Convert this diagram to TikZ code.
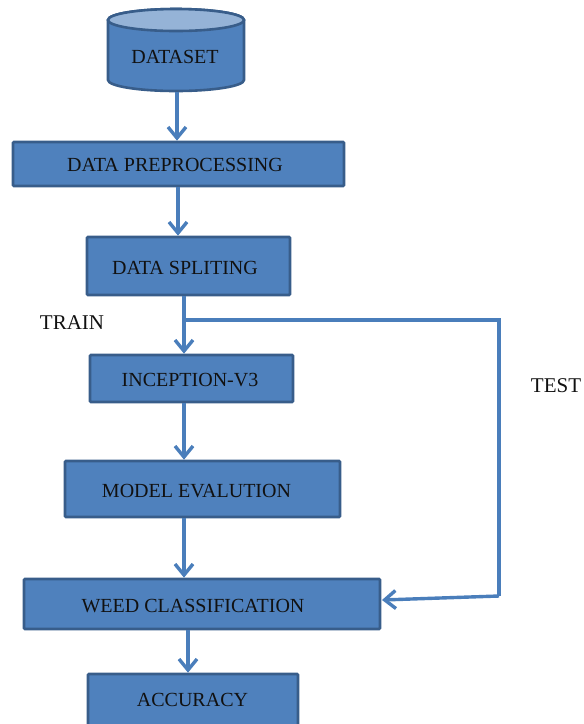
\documentclass[tikz,border=0pt]{standalone}
\usepackage{fontspec}
\setmainfont{Liberation Serif}
\usetikzlibrary{arrows.meta}
\definecolor{boxfill}{HTML}{4F81BD}
\definecolor{boxline}{HTML}{385D8A}
\definecolor{linkcol}{HTML}{4A7EBB}
\definecolor{topfill}{HTML}{95B3D7}
\definecolor{txt}{HTML}{111111}
\tikzset{
  box/.style={rectangle, draw=boxline, fill=boxfill, line width=2.6pt, rounded corners=1pt, inner sep=0pt},
  lbl/.style={font=\fontsize{20}{24}\selectfont, text=txt, inner sep=0pt},
  side/.style={font=\fontsize{21}{25}\selectfont, text=txt, inner sep=0pt},
  link/.style={draw=linkcol, line width=3.4pt},
  arr/.style={link, -{Straight Barb[length=11pt,width=18pt]}}
}
\begin{document}
\begin{tikzpicture}
\useasboundingbox (0,0) rectangle (584pt,-724pt);
\begin{scope}[x=1pt,y=1pt]
\clip (0,0) rectangle (584,-724);
% cylinder (dataset)
\draw[draw=boxline, fill=boxfill, line width=2.6pt]
  (108,-20) -- (108,-80) arc[start angle=180, end angle=360, x radius=68, y radius=11]
  -- (244,-20) arc[start angle=0, end angle=180, x radius=68, y radius=11] -- cycle;
\draw[draw=boxline, fill=topfill, line width=2.6pt] (176,-20) ellipse[x radius=68, y radius=11];
\node[lbl] (dsL) at (175,-57) {DATASET};
\coordinate (dsb) at (177,-92);

% boxes
\node[box, minimum width=331pt, minimum height=44pt] (pre) at (178.5,-164) {};
\node[box, minimum width=203pt, minimum height=58pt] (split) at (188.5,-266) {};
\node[box, minimum width=203pt, minimum height=47pt] (incep) at (191.5,-378.5) {};
\node[box, minimum width=275pt, minimum height=56pt] (model) at (202.5,-489) {};
\node[box, minimum width=356pt, minimum height=50pt] (weed) at (202,-604) {};
\node[box, minimum width=210pt, minimum height=60pt] (acc) at (193,-704) {};

\node[lbl] (preL) at (175,-165) {DATA PREPROCESSING};
\node[lbl] (splitL) at (185,-268) {DATA SPLITING};
\node[lbl] (incepL) at (190,-380) {INCEPTION-V3};
\node[lbl] (modelL) at (196.5,-491) {MODEL EVALUTION};
\node[lbl] (weedL) at (193,-606) {WEED CLASSIFICATION};
\node[lbl] (accL) at (192.5,-700) {ACCURACY};

\node[side] (train) at (72,-323) {TRAIN};
\node[side] (test) at (556,-386) {TEST};

% x positions of the connectors
\coordinate (x1) at (177,0);
\coordinate (x2) at (178,0);
\coordinate (x3) at (184,0);
\coordinate (x4) at (188,0);
\coordinate (j) at (184,-320);
\coordinate (r) at (499,-320);
\coordinate (rb) at (499,-596);
\coordinate (wt) at (382,-600);

\draw[arr] (dsb) -- (pre.north -| x1);
\draw[arr] (pre.south -| x2) -- (split.north -| x2);
\draw[link] (split.south -| x3) -- (j);
\draw[arr] (j) -- (incep.north -| x3);
\draw[link, line join=miter] (j) -- (r) -- (rb);
\draw[arr] (rb) -- (wt);
\draw[arr] (incep.south -| x3) -- (model.north -| x3);
\draw[arr] (model.south -| x3) -- (weed.north -| x3);
\draw[arr] (weed.south -| x4) -- (acc.north -| x4);
\end{scope}
\end{tikzpicture}
\end{document}
